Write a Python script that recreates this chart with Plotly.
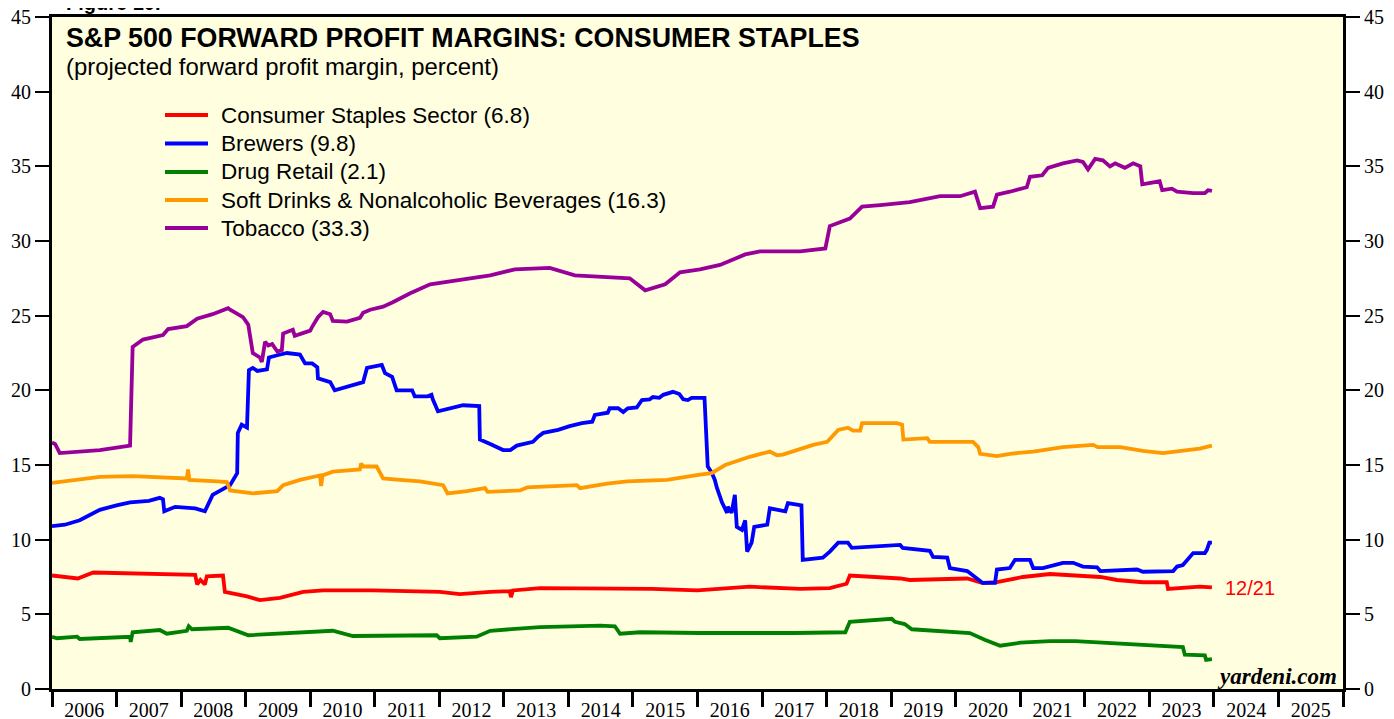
import pandas as pd
import plotly.graph_objects as go

# ---------------- data (decimal year, percent) ----------------
staples_t = [2006.00, 2006.40, 2006.64, 2007.21, 2008.09, 2008.22, 2008.25, 2008.30, 2008.37, 2008.40,
             2008.65, 2008.68, 2009.02, 2009.22, 2009.53, 2009.89, 2010.20, 2010.97, 2012.01, 2012.32,
             2012.79, 2013.09, 2013.11, 2013.14, 2013.56, 2014.50, 2015.30, 2016.00, 2016.81, 2017.59,
             2018.05, 2018.31, 2018.36, 2019.14, 2019.29, 2020.18, 2020.42, 2020.64, 2021.04, 2021.46,
             2022.24, 2022.50, 2022.90, 2023.27, 2023.29, 2023.78, 2023.97]
staples_v = [7.6, 7.4, 7.8, 7.75, 7.7, 7.65, 7.0, 7.3, 7.0, 7.55,
             7.6, 6.5, 6.2, 5.95, 6.1, 6.5, 6.6, 6.6, 6.5, 6.35,
             6.5, 6.55, 6.15, 6.6, 6.75, 6.75, 6.7, 6.6, 6.85, 6.7,
             6.75, 7.05, 7.6, 7.4, 7.3, 7.4, 7.1, 7.15, 7.5, 7.7,
             7.5, 7.3, 7.15, 7.15, 6.7, 6.85, 6.8]

brewers_t = [2006.00, 2006.20, 2006.43, 2006.74, 2007.00, 2007.21, 2007.50, 2007.67, 2007.72, 2007.74,
             2007.91, 2008.22, 2008.37, 2008.49, 2008.76, 2008.87, 2008.88, 2008.94, 2009.02, 2009.05,
             2009.11, 2009.18, 2009.33, 2009.36, 2009.49, 2009.64, 2009.84, 2009.92, 2010.03, 2010.11,
             2010.12, 2010.31, 2010.38, 2010.51, 2010.82, 2010.88, 2011.11, 2011.16, 2011.27, 2011.34,
             2011.58, 2011.62, 2011.82, 2011.88, 2011.90, 2011.98, 2012.17, 2012.37, 2012.62, 2012.63,
             2012.79, 2012.99, 2013.10, 2013.20, 2013.45, 2013.53, 2013.61, 2013.84, 2014.02, 2014.21,
             2014.37, 2014.41, 2014.61, 2014.64, 2014.77, 2014.85, 2014.92, 2015.06, 2015.14, 2015.26,
             2015.31, 2015.41, 2015.47, 2015.62, 2015.72, 2015.78, 2015.85, 2015.91, 2016.11, 2016.16,
             2016.22, 2016.27, 2016.30, 2016.38, 2016.46, 2016.47, 2016.53, 2016.58, 2016.61, 2016.69,
             2016.74, 2016.77, 2016.84, 2016.88, 2017.08, 2017.12, 2017.36, 2017.40, 2017.61, 2017.63,
             2017.94, 2018.05, 2018.18, 2018.33, 2018.39, 2019.14, 2019.18, 2019.60, 2019.65, 2019.87,
             2019.91, 2020.18, 2020.42, 2020.61, 2020.64, 2020.84, 2020.92, 2021.15, 2021.20, 2021.35,
             2021.66, 2021.82, 2021.97, 2022.19, 2022.24, 2022.81, 2022.90, 2023.37, 2023.43, 2023.52,
             2023.68, 2023.86, 2023.89, 2023.93, 2023.97]
brewers_v = [10.9, 11.0, 11.3, 12.0, 12.3, 12.5, 12.6, 12.8, 12.7, 11.9,
             12.2, 12.1, 11.9, 13.0, 13.65, 14.45, 17.15, 17.7, 17.5, 21.35,
             21.5, 21.3, 21.4, 22.2, 22.35, 22.5, 22.4, 21.8, 21.8, 21.55,
             20.8, 20.55, 20.0, 20.15, 20.55, 21.5, 21.7, 21.15, 20.9, 20.0,
             20.0, 19.6, 19.6, 19.7, 19.4, 18.6, 18.8, 19.0, 18.95, 16.7,
             16.4, 16.0, 16.0, 16.3, 16.55, 16.9, 17.15, 17.35, 17.6, 17.8,
             17.9, 18.35, 18.5, 18.8, 18.8, 18.55, 18.8, 18.85, 19.35, 19.4,
             19.55, 19.5, 19.7, 19.9, 19.75, 19.4, 19.35, 19.5, 19.5, 14.9,
             14.5, 14.0, 13.5, 12.5, 11.8, 12.2, 11.8, 13.0, 10.85, 10.65,
             11.3, 9.2, 9.8, 10.85, 11.0, 12.1, 11.9, 12.45, 12.3, 8.65,
             8.8, 9.2, 9.8, 9.8, 9.45, 9.65, 9.45, 9.25, 8.85, 8.8,
             8.1, 7.9, 7.1, 7.1, 8.0, 8.1, 8.65, 8.65, 8.1, 8.1,
             8.45, 8.45, 8.2, 8.15, 7.9, 8.0, 7.85, 7.9, 8.2, 8.3,
             9.1, 9.1, 9.3, 9.8, 9.8]

drug_t = [2006.00, 2006.08, 2006.39, 2006.43, 2007.21, 2007.22, 2007.25, 2007.67, 2007.78, 2008.09,
          2008.12, 2008.17, 2008.73, 2009.04, 2010.35, 2010.66, 2011.96, 2012.01, 2012.58, 2012.79,
          2013.56, 2014.50, 2014.72, 2014.80, 2015.11, 2016.04, 2017.50, 2018.29, 2018.36, 2018.83,
          2019.01, 2019.06, 2019.21, 2019.32, 2019.76, 2020.22, 2020.45, 2020.69, 2021.00, 2021.46,
          2021.85, 2022.24, 2022.70, 2023.01, 2023.52, 2023.55, 2023.86, 2023.88, 2023.97]
drug_v = [3.5, 3.4, 3.5, 3.35, 3.5, 3.15, 3.8, 3.95, 3.7, 3.9,
          4.2, 4.0, 4.1, 3.6, 3.9, 3.55, 3.6, 3.4, 3.5, 3.9,
          4.15, 4.25, 4.2, 3.7, 3.8, 3.75, 3.75, 3.8, 4.5, 4.6,
          4.7, 4.5, 4.35, 4.0, 3.9, 3.75, 3.3, 2.9, 3.1, 3.2,
          3.2, 3.1, 2.95, 2.9, 2.8, 2.3, 2.25, 1.95, 2.0]

soft_t = [2006.00, 2006.40, 2006.74, 2007.25, 2008.09, 2008.11, 2008.13, 2008.56, 2008.71, 2008.76,
          2009.11, 2009.49, 2009.58, 2009.84, 2010.15, 2010.17, 2010.19, 2010.35, 2010.77, 2010.79,
          2010.82, 2011.03, 2011.13, 2011.39, 2011.70, 2012.06, 2012.13, 2012.43, 2012.71, 2012.75,
          2013.25, 2013.36, 2014.13, 2014.18, 2014.60, 2014.91, 2015.53, 2016.04, 2016.22, 2016.43,
          2016.81, 2017.12, 2017.23, 2017.32, 2017.79, 2018.01, 2018.08, 2018.18, 2018.33, 2018.41,
          2018.52, 2018.55, 2019.09, 2019.17, 2019.19, 2019.56, 2019.60, 2020.27, 2020.35, 2020.38,
          2020.64, 2020.84, 2021.20, 2021.66, 2022.13, 2022.20, 2022.55, 2022.90, 2023.21, 2023.78,
          2023.97]
soft_v = [13.8, 14.0, 14.2, 14.25, 14.1, 14.7, 14.0, 13.9, 13.85, 13.3,
          13.1, 13.25, 13.65, 14.0, 14.3, 13.6, 14.3, 14.55, 14.7, 15.1,
          14.9, 14.9, 14.1, 14.0, 13.9, 13.65, 13.1, 13.25, 13.45, 13.2,
          13.3, 13.5, 13.65, 13.45, 13.75, 13.9, 14.0, 14.35, 14.45, 15.0,
          15.55, 15.9, 15.65, 15.7, 16.35, 16.55, 16.9, 17.35, 17.5, 17.3,
          17.3, 17.8, 17.8, 17.7, 16.7, 16.8, 16.55, 16.55, 16.2, 15.75,
          15.6, 15.75, 15.9, 16.2, 16.35, 16.2, 16.2, 15.95, 15.8, 16.1,
          16.3]

tobacco_t = [2006.00, 2006.05, 2006.12, 2006.74, 2007.21, 2007.25, 2007.41, 2007.72, 2007.80, 2008.09,
             2008.25, 2008.49, 2008.73, 2008.76, 2008.96, 2009.04, 2009.11, 2009.22, 2009.25, 2009.30,
             2009.35, 2009.41, 2009.49, 2009.56, 2009.58, 2009.73, 2009.76, 2010.00, 2010.03, 2010.12,
             2010.20, 2010.31, 2010.35, 2010.57, 2010.77, 2010.82, 2010.93, 2011.13, 2011.28, 2011.55,
             2011.86, 2012.32, 2012.79, 2013.17, 2013.71, 2014.10, 2014.64, 2014.95, 2015.19, 2015.50,
             2015.73, 2016.04, 2016.35, 2016.74, 2016.97, 2017.59, 2017.98, 2018.05, 2018.36, 2018.55,
             2018.83, 2019.29, 2019.76, 2020.07, 2020.30, 2020.38, 2020.58, 2020.64, 2020.84, 2021.10,
             2021.15, 2021.34, 2021.43, 2021.66, 2021.88, 2021.97, 2022.05, 2022.16, 2022.28, 2022.39,
             2022.47, 2022.62, 2022.75, 2022.86, 2022.89, 2023.04, 2023.16, 2023.20, 2023.35, 2023.43,
             2023.68, 2023.86, 2023.91, 2023.97]
tobacco_v = [16.5, 16.4, 15.8, 16.0, 16.3, 22.9, 23.4, 23.7, 24.1, 24.3,
             24.8, 25.1, 25.5, 25.4, 24.9, 24.4, 22.5, 22.2, 21.9, 23.25,
             23.0, 23.1, 22.6, 22.7, 23.8, 24.05, 23.65, 24.0, 24.25, 24.9,
             25.25, 25.1, 24.65, 24.6, 24.85, 25.2, 25.4, 25.6, 25.9, 26.5,
             27.1, 27.4, 27.7, 28.1, 28.2, 27.7, 27.6, 27.5, 26.7, 27.1,
             27.9, 28.1, 28.4, 29.1, 29.3, 29.3, 29.5, 31.0, 31.5, 32.3,
             32.4, 32.6, 33.0, 33.0, 33.3, 32.2, 32.3, 33.1, 33.3, 33.6,
             34.3, 34.4, 34.9, 35.2, 35.4, 35.3, 34.8, 35.5, 35.4, 35.0,
             35.2, 34.9, 35.2, 35.0, 33.8, 33.9, 34.0, 33.4, 33.5, 33.3,
             33.2, 33.2, 33.4, 33.35]

series_names = ["Consumer Staples Sector (6.8)", "Brewers (9.8)", "Drug Retail (2.1)",
                "Soft Drinks & Nonalcoholic Beverages (16.3)", "Tobacco (33.3)"]
series_colors = ["#FF0000", "#0000FF", "#008000", "#FF9900", "#990099"]
y_ticks = [0, 5, 10, 15, 20, 25, 30, 35, 40, 45]


def to_dates(dec_years):
    out = []
    for y in dec_years:
        yi = int(y)
        out.append(pd.Timestamp(f"{yi}-01-01") + pd.Timedelta(days=(y - yi) * 365.25))
    return out


series = [(staples_t, staples_v), (brewers_t, brewers_v), (drug_t, drug_v),
          (soft_t, soft_v), (tobacco_t, tobacco_v)]

fig = go.Figure()
for (t, v), name, col in zip(series, series_names, series_colors):
    fig.add_trace(go.Scatter(x=to_dates(t), y=v, mode="lines", name=name,
                             line=dict(color=col, width=3.8), hoverinfo="x+y",
                             showlegend=False))
# trace that anchors the right-hand mirror axis
fig.add_trace(go.Scatter(x=[], y=[], yaxis="y2", showlegend=False, hoverinfo="skip"))

# the page body adds an 8px offset; size the figure so the plot lands where the reference has it
OFF = 8
W, H = 1394 - OFF, 719 - OFF
# plot box in page pixels: left 52, right 1343, top 17, bottom 689
L, R, T, B = 52 - OFF, W - (1343 - OFF), 17 - OFF, H - (689 - OFF)
pw, ph = W - L - R, H - T - B


def px_x(x):  # page pixel -> paper fraction
    return (x - OFF - L) / pw


def px_y(y):
    return (H - B - (y - OFF)) / ph


serif = "Liberation Serif, Times New Roman, serif"
sans = "Liberation Sans, Arial, sans-serif"

axis_common = dict(showgrid=False, zeroline=False, showline=True, linecolor="black", linewidth=3,
                   ticks="outside", ticklen=14, tickwidth=2, tickcolor="black", automargin=False,
                   ticklabeloverflow="allow",
                   tickfont=dict(family=serif, size=20, color="black"))

fig.update_layout(
    width=W, height=H,
    margin=dict(l=L, r=R, t=T, b=B, pad=0, autoexpand=False),
    paper_bgcolor="white",
    plot_bgcolor="#FFFFE0",
    font=dict(family=sans, color="black"),
    showlegend=False,
    xaxis=dict(type="date", range=["2006-01-01", "2026-01-01"],
               ticklabelmode="period", tickformat="%Y", dtick="M12", tick0="2006-01-01",
               mirror=True, showgrid=False, zeroline=False, showline=True, linecolor="black",
               linewidth=3, ticks="outside", ticklen=15, tickwidth=3, tickcolor="black",
               automargin=False, ticklabeloverflow="allow", ticklabelstandoff=-14,
               tickfont=dict(family=serif, size=20, color="black")),
    yaxis=dict(range=[0, 45], tickvals=y_ticks, **axis_common),
    yaxis2=dict(range=[0, 45], tickvals=y_ticks, overlaying="y", side="right", **axis_common),
)

# legend drawn as line samples + labels
legend_rows = [115, 143.5, 172, 200, 228]
for name, col, ry in zip(series_names, series_colors, legend_rows):
    fig.add_shape(type="line", xref="paper", yref="paper", x0=px_x(165), x1=px_x(208),
                  y0=px_y(ry), y1=px_y(ry), line=dict(color=col, width=4))
    fig.add_annotation(xref="paper", yref="paper", showarrow=False, text=name,
                       x=px_x(219), y=px_y(ry), xanchor="left", yanchor="middle",
                       font=dict(family=sans, size=22.5, color="black"))

annos = [
    dict(text="<b>Figure 10.</b>", x=px_x(64), y=px_y(16), xanchor="left", yanchor="bottom",
         font=dict(family=sans, size=20)),
    dict(text="<b>S&P 500 FORWARD PROFIT MARGINS: CONSUMER STAPLES</b>", x=px_x(64), y=px_y(38),
         xanchor="left", yanchor="middle", font=dict(family=sans, size=26.8)),
    dict(text="(projected forward profit margin, percent)", x=px_x(64), y=px_y(67),
         xanchor="left", yanchor="middle", font=dict(family=sans, size=23.9)),
    dict(text="12/21", x=px_x(1223), y=px_y(588), xanchor="left", yanchor="middle",
         font=dict(family=sans, size=20, color="#FF0000")),
    dict(text="<b><i>yardeni.com</i></b>", x=px_x(1339), y=px_y(676), xanchor="right",
         yanchor="middle", font=dict(family=serif, size=23)),
]
for a in annos:
    fig.add_annotation(xref="paper", yref="paper", showarrow=False, **a)

fig.write_html("out.html")
